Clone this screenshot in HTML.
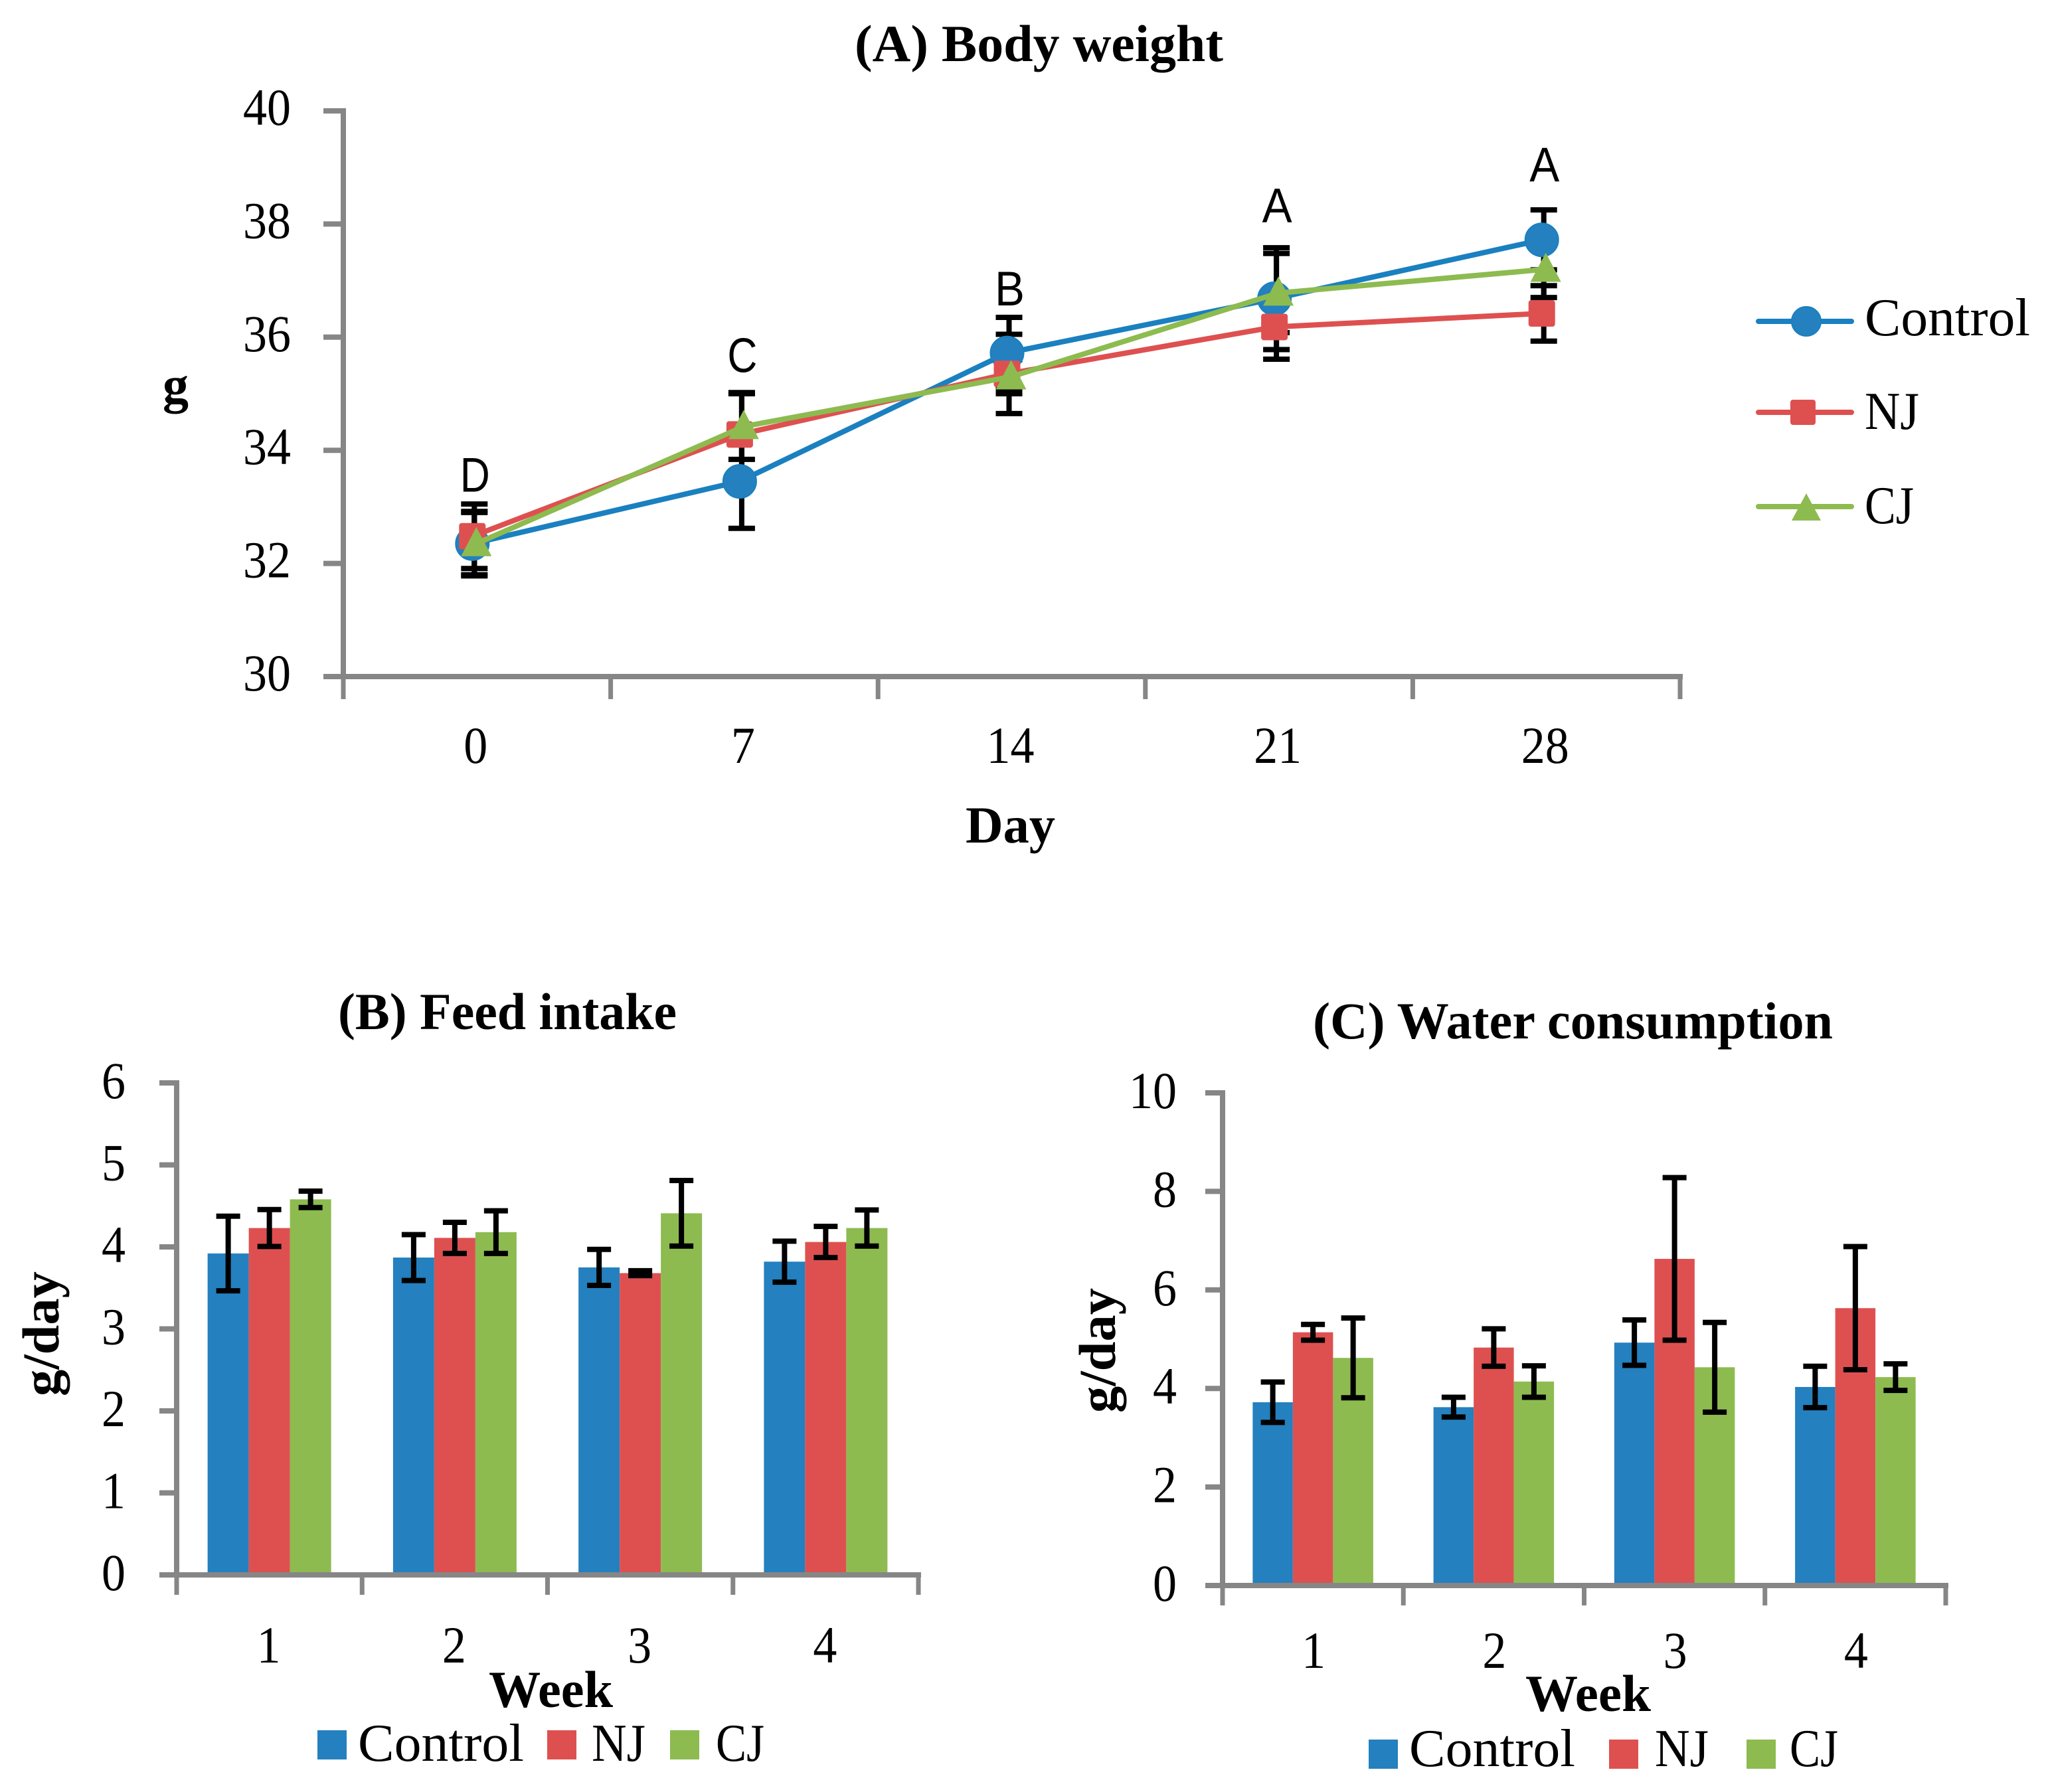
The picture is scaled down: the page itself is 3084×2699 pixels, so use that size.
<!DOCTYPE html>
<html lang="en">
<head>
<meta charset="utf-8">
<title>Body weight, feed intake and water consumption</title>
<style>
html,body{margin:0;padding:0;background:#fff;}
svg{display:block;}
text{fill:#000;font-family:"Liberation Serif",serif;}
.tick{font-size:78px;}
.bold{font-weight:bold;font-size:78px;}
.leg{font-size:80px;}
.sig{font-family:"Liberation Sans",sans-serif;font-size:73px;}
</style>
</head>
<body>
<svg id="figure" xmlns="http://www.w3.org/2000/svg" width="3084" height="2699" viewBox="0 0 3084 2699">
  <rect width="3084" height="2699" fill="#fff"/>

  <text class="bold" x="1287" y="92" textLength="555" lengthAdjust="spacingAndGlyphs">(A) Body weight</text>
  <text class="bold" x="1454" y="1269" textLength="135" lengthAdjust="spacingAndGlyphs">Day</text>
  <text class="bold" x="245" y="606">g</text>
  <g id="chartA"></g>

  <g>
    <g>
      <line x1="2648" y1="484" x2="2788" y2="484" stroke="#1A80C0" stroke-width="8" stroke-linecap="round"/>
      <circle cx="2720" cy="484" r="22" fill="#2480BE" stroke="#1A80C0" stroke-width="2"/>
      <text class="leg" x="2808" y="505" textLength="249" lengthAdjust="spacingAndGlyphs">Control</text>
    </g>
    <g>
      <line x1="2648" y1="621" x2="2788" y2="621" stroke="#DE5050" stroke-width="8" stroke-linecap="round"/>
      <rect x="2696" y="602" width="38" height="38" rx="4" fill="#DE5050"/>
      <text class="leg" x="2808" y="646" textLength="82" lengthAdjust="spacingAndGlyphs">NJ</text>
    </g>
    <g>
      <line x1="2648" y1="763" x2="2788" y2="763" stroke="#8DBB50" stroke-width="8" stroke-linecap="round"/>
      <polygon points="2720,743 2742,784 2698,784" fill="#8DBB50"/>
      <text class="leg" x="2808" y="788" textLength="74" lengthAdjust="spacingAndGlyphs">CJ</text>
    </g>
  </g>

  <text class="bold" x="509" y="1550" textLength="510" lengthAdjust="spacingAndGlyphs">(B) Feed intake</text>
  <text class="bold" x="736" y="2571" textLength="187" lengthAdjust="spacingAndGlyphs">Week</text>
  <text class="bold" transform="translate(88,2009) rotate(-90)" text-anchor="middle" textLength="188" lengthAdjust="spacingAndGlyphs">g/day</text>
  <g id="chartB"></g>

  <g>
    <rect x="478" y="2606" width="44" height="44" fill="#2480BE"/>
    <text class="leg" x="539" y="2652" textLength="250" lengthAdjust="spacingAndGlyphs">Control</text>
    <rect x="824" y="2606" width="44" height="44" fill="#DE5050"/>
    <text class="leg" x="891" y="2652" textLength="81" lengthAdjust="spacingAndGlyphs">NJ</text>
    <rect x="1009" y="2606" width="44" height="44" fill="#8DBB50"/>
    <text class="leg" x="1078" y="2652" textLength="73" lengthAdjust="spacingAndGlyphs">CJ</text>
  </g>

  <text class="bold" x="1977" y="1564" textLength="783" lengthAdjust="spacingAndGlyphs">(C) Water consumption</text>
  <text class="bold" x="2297" y="2577" textLength="189" lengthAdjust="spacingAndGlyphs">Week</text>
  <text class="bold" transform="translate(1679,2034) rotate(-90)" text-anchor="middle" textLength="188" lengthAdjust="spacingAndGlyphs">g/day</text>
  <g id="chartC"></g>

  <g>
    <rect x="2061" y="2620" width="44" height="44" fill="#2480BE"/>
    <text class="leg" x="2122" y="2660" textLength="250" lengthAdjust="spacingAndGlyphs">Control</text>
    <rect x="2423" y="2620" width="44" height="44" fill="#DE5050"/>
    <text class="leg" x="2492" y="2660" textLength="81" lengthAdjust="spacingAndGlyphs">NJ</text>
    <rect x="2630" y="2620" width="44" height="44" fill="#8DBB50"/>
    <text class="leg" x="2695" y="2660" textLength="73" lengthAdjust="spacingAndGlyphs">CJ</text>
  </g>
</svg>

<script>
// ---- Chart A data: body weight (g)
const weightDays = ['0', '7', '14', '21', '28'];
const weightTicks = [30, 32, 34, 36, 38, 40];
const weightControl = [32.35, 33.45, 35.72, 36.68, 37.72];
const weightNJ = [32.48, 34.28, 35.35, 36.18, 36.42];
const weightCJ = [32.35, 34.42, 35.3, 36.78, 37.2];
const weightControlErr = [0.55, 0.83, 0.63, 0.9, 0.53];
const weightNJErr = [0.57, 0.74, 0.7, 0.57, 0.49];
const weightCJErr = [0.57, 0.58, 0.3, 0.7, 0.5];
const weightLetters = ['D', 'C', 'B', 'A', 'A'];
const weightLetterLevels = [33.27, 35.38, 36.56, 38.03, 38.75];

// ---- Chart B data: feed intake (g/day)
const feedWeeks = ['1', '2', '3', '4'];
const feedTicks = [0, 1, 2, 3, 4, 5, 6];
const feedControl = [3.92, 3.87, 3.75, 3.82];
const feedNJ = [4.23, 4.11, 3.68, 4.06];
const feedCJ = [4.58, 4.18, 4.41, 4.23];
const feedControlErr = [0.455, 0.28, 0.22, 0.25];
const feedNJErr = [0.225, 0.19, 0.03, 0.19];
const feedCJErr = [0.1, 0.26, 0.4, 0.22];

// ---- Chart C data: water consumption (g/day)
const waterWeeks = ['1', '2', '3', '4'];
const waterTicks = [0, 2, 4, 6, 8, 10];
const waterControl = [3.72, 3.62, 4.93, 4.03];
const waterNJ = [5.14, 4.83, 6.63, 5.63];
const waterCJ = [4.62, 4.14, 4.43, 4.23];
const waterControlErr = [0.41, 0.2, 0.46, 0.42];
const waterNJErr = [0.16, 0.38, 1.65, 1.25];
const waterCJErr = [0.81, 0.32, 0.91, 0.27];

const NS = 'http://www.w3.org/2000/svg';
const AXIS = '#868686';
const BLUE = '#2480BE';
const BLUE_LINE = '#1A80C0';
const RED = '#DE5050';
const GREEN = '#8DBB50';
const CHAR_W = 36;

function mk(parent, tag, attrs, txt) {
  const el = document.createElementNS(NS, tag);
  for (const k in attrs) el.setAttribute(k, attrs[k]);
  if (txt !== undefined) el.textContent = txt;
  parent.appendChild(el);
  return el;
}

function yScale(box, ticks) {
  const lo = ticks[0];
  const hi = ticks[ticks.length - 1];
  return function (v) { return box.y0 - (v - lo) / (hi - lo) * (box.y0 - box.y1); };
}
function xBand(box, n) {
  return (box.x1 - box.x0) / n;
}

function drawAxes(g, box, ticks, cats, y, opt) {
  const band = xBand(box, cats.length);
  const tickLen = opt.tickLen;
  ticks.forEach(function (t) {
    const tk = mk(g, 'line', { x1: box.x0 - tickLen, x2: box.x0, y1: y(t), y2: y(t), stroke: AXIS, 'stroke-width': 8 });
    
    
    const s = String(t);
    const lb = mk(g, 'text', { class: 'tick', x: opt.labelRight, y: y(t) + opt.labelDy, 'text-anchor': 'end', textLength: s.length * CHAR_W, lengthAdjust: 'spacingAndGlyphs' }, s);
    
    
  });
  for (let i = 0; i <= cats.length; i++) {
    const tx = box.x0 + i * band;
    const tk = mk(g, 'line', { x1: tx, x2: tx, y1: box.y0, y2: box.y0 + tickLen + 4, stroke: AXIS, 'stroke-width': 7 });
    
    
  }
  cats.forEach(function (c, i) {
    const lb = mk(g, 'text', { class: 'tick', x: box.x0 + (i + 0.5) * band + opt.catShift, y: opt.catBaseline, 'text-anchor': 'middle', textLength: c.length * CHAR_W, lengthAdjust: 'spacingAndGlyphs' }, c);
    
    
  });
  const yAxis = mk(g, 'line', { x1: box.x0, x2: box.x0, y1: box.y1 - 4, y2: box.y0 + 4, stroke: AXIS, 'stroke-width': 8 });
  
  
  const xAxis = mk(g, 'line', { x1: box.x0 - 4, x2: box.x1 + 4, y1: box.y0, y2: box.y0, stroke: AXIS, 'stroke-width': 8 });
  
  
}

function drawErr(g, x, yHi, yLo, capW) {
  const e = mk(g, 'path', {
    d: 'M' + (x - capW / 2) + ' ' + yHi + 'H' + (x + capW / 2) + 'M' + x + ' ' + yHi + 'V' + yLo + 'M' + (x - capW / 2) + ' ' + yLo + 'H' + (x + capW / 2),
    stroke: '#000', 'stroke-width': 8, fill: 'none'
  });
  
  
}

// ---- Line chart A
(function () {
  const g = document.getElementById('chartA');
  const box = { x0: 517, x1: 2530, y0: 1019, y1: 167 };
  const y = yScale(box, weightTicks);
  const band = xBand(box, weightDays.length);
  const cx = function (i) { return box.x0 + (i + 0.5) * band - 4; };
  drawAxes(g, box, weightTicks, weightDays, y, { labelRight: 438, labelDy: 21, catBaseline: 1149, catShift: -2, tickLen: 30 });

  const shiftControl = -3, shiftNJ = -3, shiftCJ = 3;

  weightDays.forEach(function (d, i) {
    drawErr(g, cx(i), y(weightControl[i] + weightControlErr[i]), y(weightControl[i] - weightControlErr[i]), 40);
    drawErr(g, cx(i), y(weightNJ[i] + weightNJErr[i]), y(weightNJ[i] - weightNJErr[i]), 40);
    drawErr(g, cx(i), y(weightCJ[i] + weightCJErr[i]), y(weightCJ[i] - weightCJErr[i]), 40);
  });

  function linePts(vals, shift) {
    return vals.map(function (v, i) { return (cx(i) + shift) + ',' + y(v); }).join(' ');
  }

  // Control
  const lc = mk(g, 'polyline', { points: linePts(weightControl, shiftControl), fill: 'none', stroke: BLUE_LINE, 'stroke-width': 8 });
  
  
  weightControl.forEach(function (v, i) {
    const m = mk(g, 'circle', { cx: cx(i) + shiftControl, cy: y(v), r: 25, fill: BLUE, stroke: BLUE_LINE, 'stroke-width': 2 });
    
    
  });

  // NJ
  const ln = mk(g, 'polyline', { points: linePts(weightNJ, shiftNJ), fill: 'none', stroke: RED, 'stroke-width': 8 });
  
  
  weightNJ.forEach(function (v, i) {
    const m = mk(g, 'rect', { x: cx(i) + shiftNJ - 20, y: y(v) - 20, width: 40, height: 40, rx: 4, fill: RED });
    
    
  });

  // CJ
  const lg = mk(g, 'polyline', { points: linePts(weightCJ, shiftCJ), fill: 'none', stroke: GREEN, 'stroke-width': 8 });
  
  
  weightCJ.forEach(function (v, i) {
    const px = cx(i) + shiftCJ, py = y(v);
    const m = mk(g, 'polygon', { points: px + ',' + (py - 25) + ' ' + (px + 23) + ',' + (py + 19) + ' ' + (px - 23) + ',' + (py + 19), fill: GREEN });
    
    
  });

  weightLetters.forEach(function (l, i) {
    const t = mk(g, 'text', { class: 'sig', x: cx(i) + 1, y: y(weightLetterLevels[i]), 'text-anchor': 'middle', textLength: 45, lengthAdjust: 'spacingAndGlyphs' }, l);
    
    
  });
})();

// ---- Grouped bar charts B and C
function drawBars(id, box, ticks, cats, s1, s2, s3, e1, e2, e3, opt) {
  const g = document.getElementById(id);
  const y = yScale(box, ticks);
  const band = xBand(box, cats.length);
  const barW = opt.barW;
  const groups = [[s1, e1, BLUE, 'bar-control'], [s2, e2, RED, 'bar-nj'], [s3, e3, GREEN, 'bar-cj']];
  groups.forEach(function (grp, j) {
    grp[0].forEach(function (v, i) {
      const bx = box.x0 + (i + 0.5) * band + opt.barShift + (j - 1.5) * barW;
      const r = mk(g, 'rect', { x: bx, y: y(v), width: barW, height: box.y0 - y(v), fill: grp[2] });
      
      
    });
  });
  drawAxes(g, box, ticks, cats, y, opt);
  groups.forEach(function (grp, j) {
    grp[0].forEach(function (v, i) {
      const ex = box.x0 + (i + 0.5) * band + opt.barShift + (j - 1) * barW;
      drawErr(g, ex, y(v + grp[1][i]), y(v - grp[1][i]), 36);
    });
  });
}

drawBars('chartB', { x0: 266, x1: 1383, y0: 2372, y1: 1631 }, feedTicks, feedWeeks,
  feedControl, feedNJ, feedCJ, feedControlErr, feedNJErr, feedCJErr,
  { labelRight: 189, labelDy: 23, catBaseline: 2504, catShift: -1, tickLen: 26, barW: 62, barShift: 0 });
drawBars('chartC', { x0: 1841, x1: 2930, y0: 2388, y1: 1646 }, waterTicks, waterWeeks,
  waterControl, waterNJ, waterCJ, waterControlErr, waterNJErr, waterCJErr,
  { labelRight: 1772, labelDy: 23, catBaseline: 2512, catShift: 1, tickLen: 26, barW: 60.5, barShift: 0 });
</script>
</body>
</html>
